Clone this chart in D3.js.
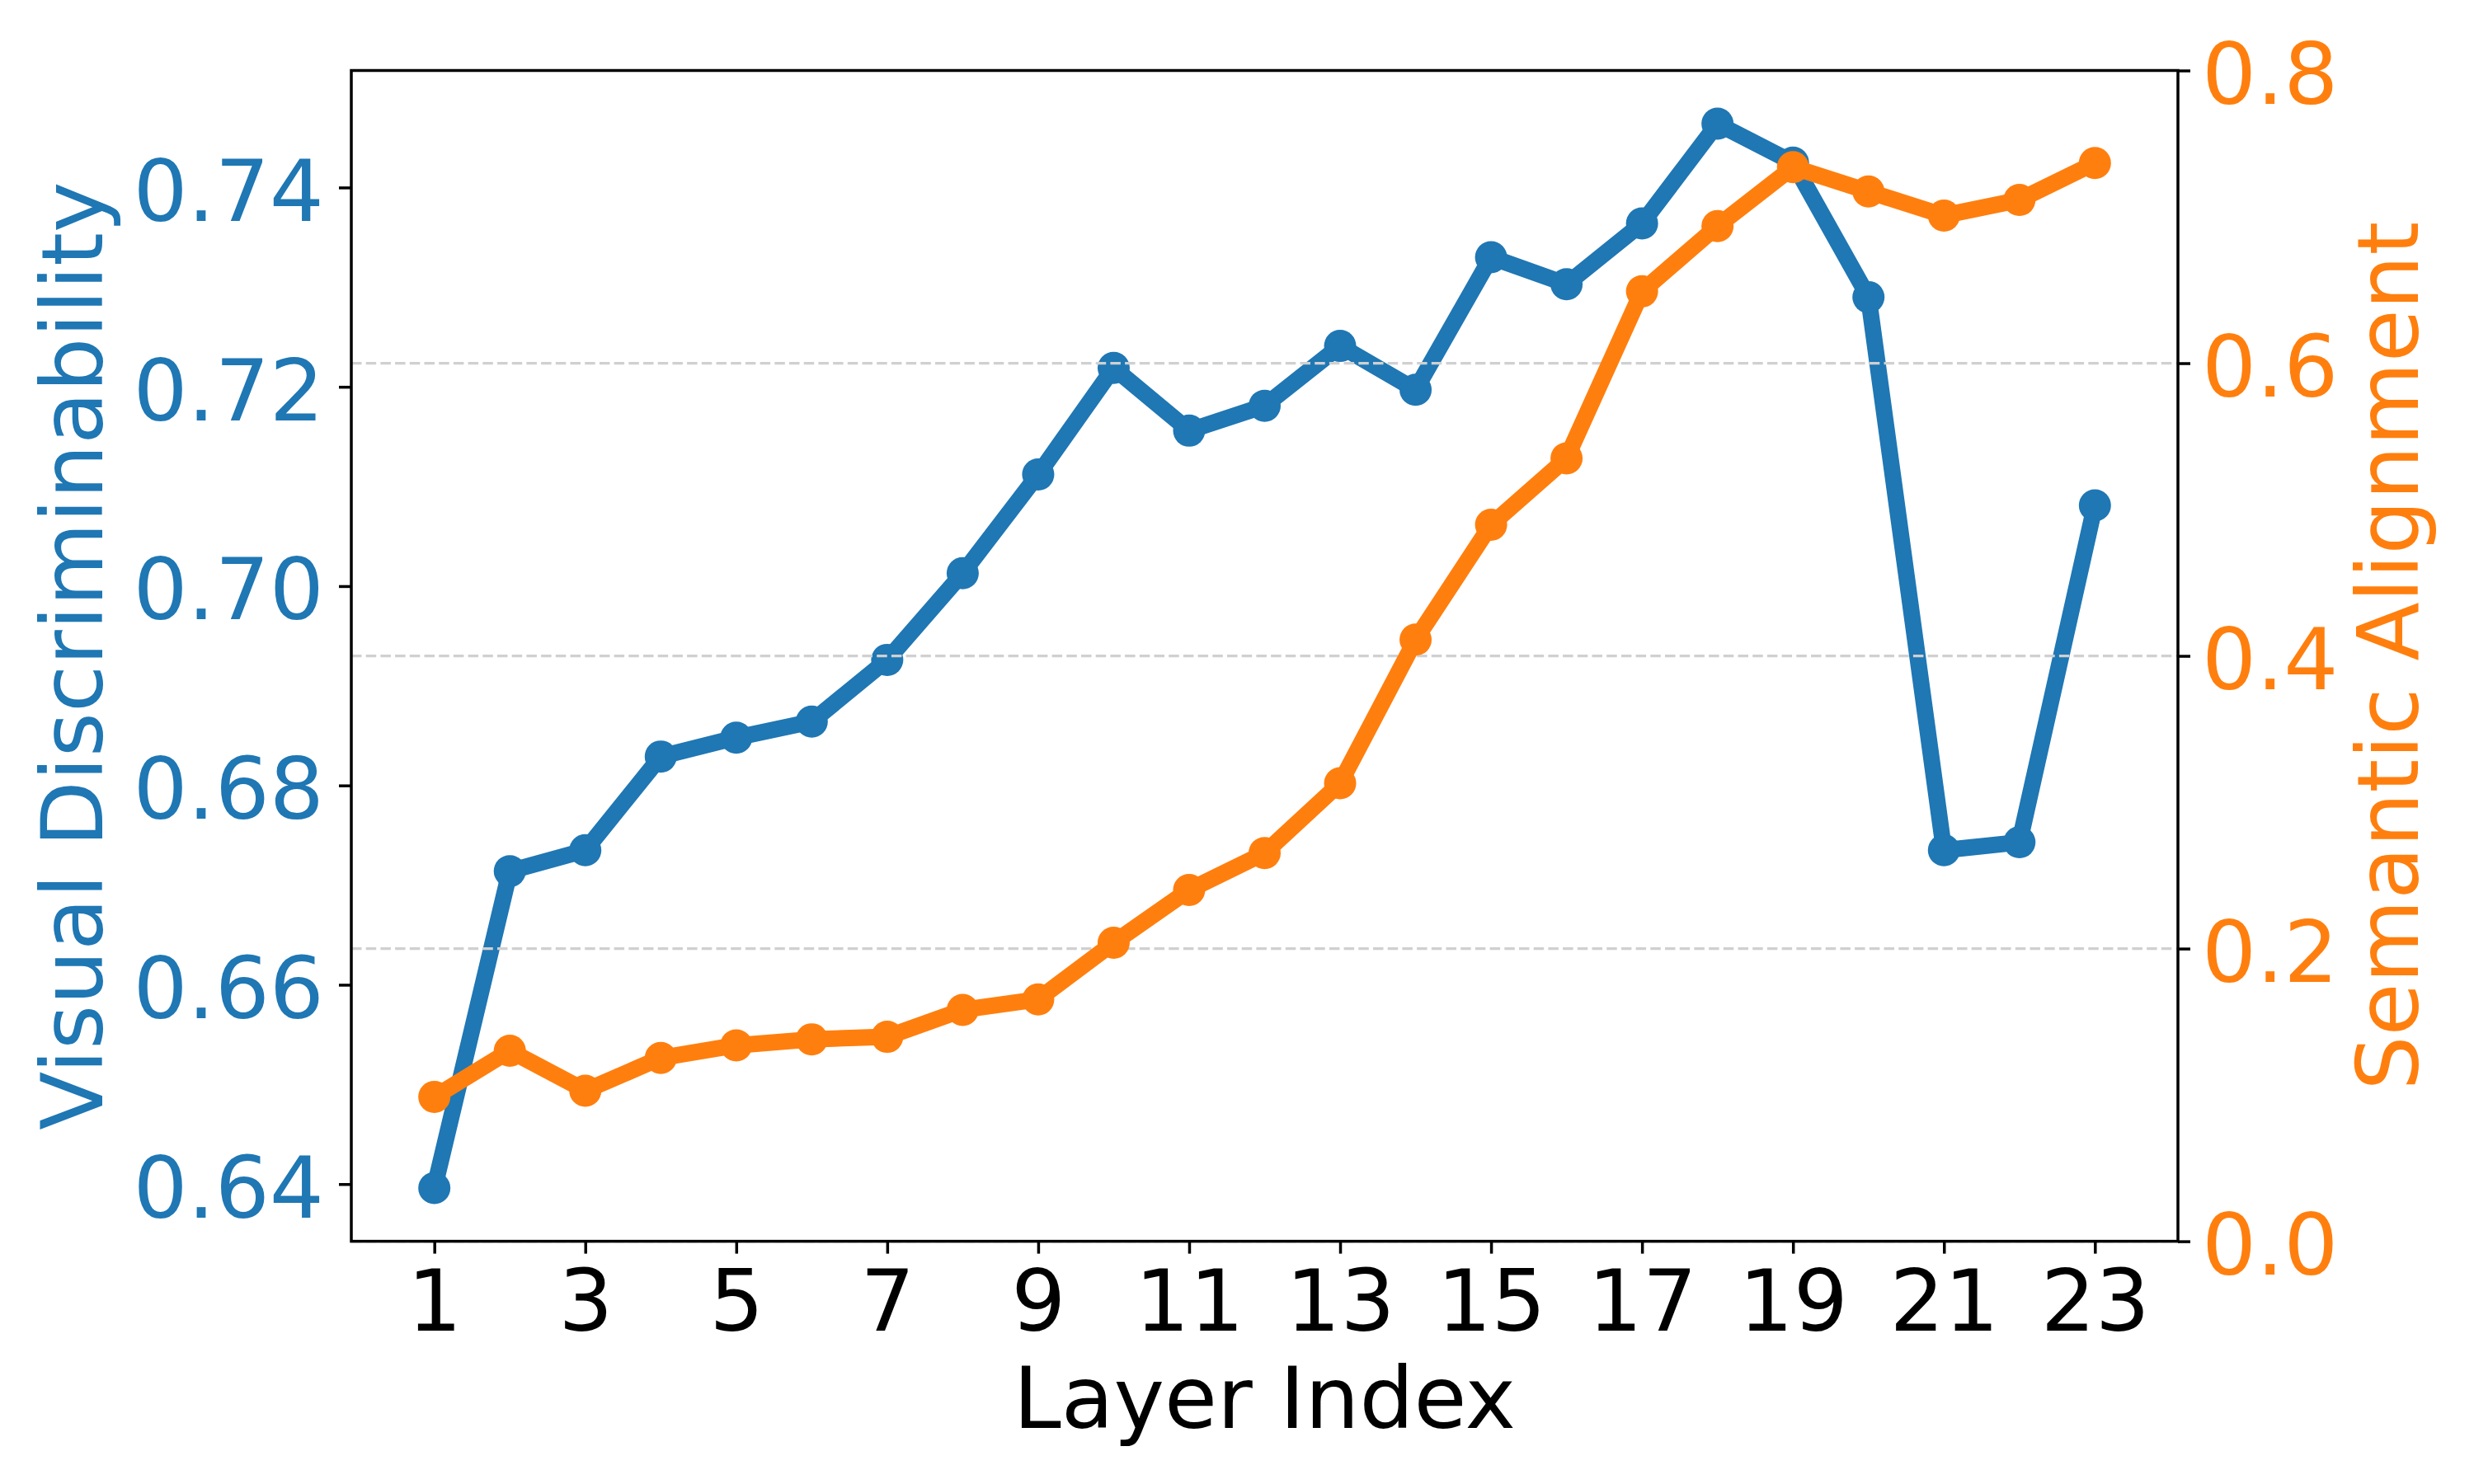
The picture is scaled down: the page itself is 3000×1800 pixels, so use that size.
<!DOCTYPE html>
<html>
<head>
<meta charset="utf-8">
<script src="https://cdn.jsdelivr.net/npm/d3@7"></script>
<style>
  body { margin: 0; background: #ffffff; }
  svg { display: block; font-family: "DejaVu Sans", sans-serif; }
</style>
</head>
<body>
<div id="plotdiv"></div>
<script>
// Size of the figure and the plot box inside it
var outerWidth = 3000;
var outerHeight = 1800;
var box = { left: 426, top: 85.5, right: 2641, bottom: 1505.6 };

var blue = "#1f77b4";
var orange = "#ff7f0e";
var fontSize = 104;

// Data
var layers = [1, 2, 3, 4, 5, 6, 7, 8, 9, 10, 11, 12, 13, 14, 15, 16, 17, 18, 19, 20, 21, 22, 23];
var visualDisc = [0.6396, 0.6714, 0.6735, 0.6829, 0.6848, 0.6864, 0.6926, 0.7013, 0.7112, 0.7219,
  0.7156, 0.7181, 0.7241, 0.7197, 0.7330, 0.7303, 0.7364, 0.7464, 0.7425, 0.7290,
  0.6735, 0.6743, 0.7081];
var semAlign = [0.0986, 0.1302, 0.1029, 0.1253, 0.1339, 0.1380, 0.1397, 0.1581, 0.1653, 0.2040,
  0.2400, 0.2653, 0.3130, 0.4111, 0.4896, 0.5350, 0.6491, 0.6937, 0.7339, 0.7173,
  0.7009, 0.7115, 0.7368];

// Tick values
var ticksX = [1, 3, 5, 7, 9, 11, 13, 15, 17, 19, 21, 23];
var ticksYL = [0.64, 0.66, 0.68, 0.70, 0.72, 0.74];
var ticksYR = [0.0, 0.2, 0.4, 0.6, 0.8];

var vis = d3.select("#plotdiv").append("svg")
  .attr("width", outerWidth)
  .attr("height", outerHeight);

vis.append("rect")
  .attr("width", outerWidth)
  .attr("height", outerHeight)
  .attr("fill", "#ffffff");

// Scales - matplotlib style 5% padding on x and on the left y
var xPad = 0.05 * (d3.max(layers) - d3.min(layers));
var xScale = d3.scaleLinear()
  .domain([d3.min(layers) - xPad, d3.max(layers) + xPad])
  .range([box.left, box.right]);

var lMin = d3.min(visualDisc), lMax = d3.max(visualDisc);
var lPad = 0.05 * (lMax - lMin);
var yLeft = d3.scaleLinear()
  .domain([lMin - lPad, lMax + lPad])
  .range([box.bottom, box.top]);

var yRight = d3.scaleLinear()
  .domain([0, 0.8])
  .range([box.bottom, box.top]);

var lineLeft = d3.line()
  .x(function (d, i) { return xScale(layers[i]); })
  .y(function (d) { return yLeft(d); });
var lineRight = d3.line()
  .x(function (d, i) { return xScale(layers[i]); })
  .y(function (d) { return yRight(d); });

// Blue series (left axis) drawn first
var gBlue = vis.append("g");
gBlue.append("path")
  .datum(visualDisc)
  .attr("d", lineLeft)
  .attr("fill", "none")
  .attr("stroke", blue)
  .attr("stroke-width", 20)
  .attr("stroke-linejoin", "round");
gBlue.selectAll("circle").data(visualDisc).enter().append("circle")
  .attr("cx", function (d, i) { return xScale(layers[i]); })
  .attr("cy", function (d) { return yLeft(d); })
  .attr("r", 19.5)
  .attr("fill", blue);

// Grid from the right axis (twin axis is drawn over the blue series)
vis.append("g").selectAll("line").data(ticksYR).enter().append("line")
  .attr("x1", box.left)
  .attr("x2", box.right)
  .attr("y1", function (d) { return yRight(d); })
  .attr("y2", function (d) { return yRight(d); })
  .attr("stroke", "#d0d0d0")
  .attr("stroke-width", 3.2)
  .attr("stroke-dasharray", "12.5,5.2");

// Orange series (right axis)
var gOrange = vis.append("g");
gOrange.append("path")
  .datum(semAlign)
  .attr("d", lineRight)
  .attr("fill", "none")
  .attr("stroke", orange)
  .attr("stroke-width", 20)
  .attr("stroke-linejoin", "round");
gOrange.selectAll("circle").data(semAlign).enter().append("circle")
  .attr("cx", function (d, i) { return xScale(layers[i]); })
  .attr("cy", function (d) { return yRight(d); })
  .attr("r", 19.5)
  .attr("fill", orange);

// Axes
var axisX = d3.axisBottom(xScale)
  .tickValues(ticksX)
  .tickFormat(d3.format("d"))
  .tickSize(15)
  .tickSizeOuter(0)
  .tickPadding(19.5);
var axisYL = d3.axisLeft(yLeft)
  .tickValues(ticksYL)
  .tickFormat(d3.format(".2f"))
  .tickSize(15)
  .tickSizeOuter(0)
  .tickPadding(18);
var axisYR = d3.axisRight(yRight)
  .tickValues(ticksYR)
  .tickFormat(d3.format(".1f"))
  .tickSize(15)
  .tickSizeOuter(0)
  .tickPadding(14);

var gAxisX = vis.append("g")
  .attr("transform", "translate(0," + box.bottom + ")")
  .call(axisX);
var gAxisYL = vis.append("g")
  .attr("transform", "translate(" + box.left + ",0)")
  .call(axisYL);
var gAxisYR = vis.append("g")
  .attr("transform", "translate(" + box.right + ",0)")
  .call(axisYR);

[gAxisX, gAxisYL, gAxisYR].forEach(function (g) {
  g.select(".domain").remove();
  g.selectAll(".tick line").attr("stroke", "#000000").attr("stroke-width", 3.5);
  g.selectAll(".tick text")
    .attr("font-family", "DejaVu Sans")
    .attr("font-size", fontSize);
});
gAxisX.selectAll(".tick text").attr("fill", "#000000");
gAxisYL.selectAll(".tick text").attr("fill", blue).attr("dy", "0.385em");
gAxisYR.selectAll(".tick text").attr("fill", orange).attr("dy", "0.385em");

// Frame round the plot
vis.append("rect")
  .attr("x", box.left)
  .attr("y", box.top)
  .attr("width", box.right - box.left)
  .attr("height", box.bottom - box.top)
  .attr("fill", "none")
  .attr("stroke", "#000000")
  .attr("stroke-width", 3.5);

// Axis labels
var midY = (box.top + box.bottom) / 2;
vis.append("text")
  .attr("x", (box.left + box.right) / 2)
  .attr("y", 1732)
  .attr("text-anchor", "middle")
  .attr("font-size", fontSize)
  .attr("fill", "#000000")
  .text("Layer Index");

vis.append("text")
  .attr("transform", "translate(124," + midY + ") rotate(-90)")
  .attr("text-anchor", "middle")
  .attr("font-size", fontSize)
  .attr("fill", blue)
  .text("Visual Discriminability");

vis.append("text")
  .attr("transform", "translate(2932," + midY + ") rotate(-90)")
  .attr("text-anchor", "middle")
  .attr("font-size", fontSize)
  .attr("fill", orange)
  .text("Semantic Alignment");
</script>
</body>
</html>
